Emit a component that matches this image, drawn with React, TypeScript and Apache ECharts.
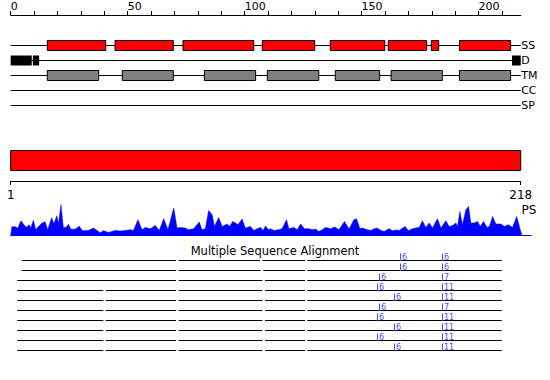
import React, { useEffect, useRef } from "react";
import * as echarts from "echarts";

// ---------- data ----------
const SEQ_LENGTH = 218;
const PROFILE_AXIS_END = 222.5;
const rulerTicks = [0, 10, 20, 30, 40, 50, 60, 70, 80, 90, 100, 110, 120, 130, 140, 150, 160, 170, 180, 190, 200, 210];
const rulerLabels = [0, 50, 100, 150, 200];
const positionLabels = [1, 218];
const trackNames = ["SS", "D", "TM", "CC", "SP"];

const ssSegments = [
  [15.65, 40.6], [44.6, 69.5], [73.65, 103.9], [107.55, 129.95],
  [136.6, 159.9], [161.4, 177.8], [179.8, 182.95], [191.8, 213.7],
];
const disorderSegments = [[0, 9], [9.45, 12.15], [214.3, 218]];
const tmSegments = [
  [15.65, 37.6], [47.7, 69.5], [82.8, 104.7], [109.7, 131.7],
  [138.75, 157.7], [162.6, 184.5], [191.8, 213.7],
];
const domainSegments = [[0, 218]];

const profile = [
  [0, 0], [0.5, 9], [2, 9], [3, 7.5], [4.4, 15], [5.8, 10.5], [6.8, 8.5], [7.8, 11], [8.6, 8], [9.7, 15.5],
  [10.7, 6], [11.8, 9], [13.3, 12.5], [14.7, 14], [15.8, 6], [17.5, 18], [18.5, 12], [19.7, 20], [20.4, 12],
  [21.5, 31], [22.5, 8], [23.7, 8.5], [24.7, 11.5], [25.7, 6.5], [27.5, 6.5], [29.3, 9.5], [30.7, 5], [33.2, 5.2],
  [35.4, 7.7], [37.5, 4.3], [38.2, 3], [39.7, 5], [41.8, 3.3], [44.7, 5.3], [46.8, 4.7], [48.9, 5.3], [51.1, 6],
  [52.5, 5.3], [54.4, 16], [56.1, 6], [57.5, 8.3], [59.7, 7], [61.8, 10.3], [63.5, 5.3], [65.4, 17], [67.2, 6],
  [69.7, 27.7], [71.1, 7.7], [72.5, 8.3], [74.6, 7.7], [76.1, 6], [78.2, 7], [80.6, 13.7], [81.8, 6], [83.2, 7],
  [84.6, 25.3], [86.1, 21], [87.1, 9.3], [88.9, 18.3], [90.4, 9.3], [92.5, 11.7], [93.6, 9.3], [94.9, 14.3],
  [96.1, 12.7], [97.1, 11], [98.9, 16.7], [100.3, 7.7], [102.5, 9.3], [103.9, 5.3], [105.3, 7], [106.8, 8.3],
  [107.9, 5.3], [108.9, 9.7], [110.3, 6], [111, 7], [112.5, 5.3], [114.6, 6], [116, 7], [117.9, 16], [118.9, 7],
  [121, 8.3], [122.5, 6], [123.9, 11.7], [125.6, 7], [127.5, 7], [128.9, 6], [130.3, 6.7], [131.7, 4.3],
  [133.2, 6], [134.6, 8.3], [136.7, 7], [138.5, 8.7], [140.3, 6], [142.7, 14.3], [144.6, 6.7], [146.7, 16],
  [147.8, 17], [149.3, 7], [150.3, 7.7], [152.4, 6], [153.9, 5.3], [155.3, 7], [156.7, 7.7], [158.2, 5.3],
  [159.6, 4.3], [161.7, 7], [163.2, 5], [164.6, 5.7], [166, 5.3], [168.6, 9.3], [170, 5], [171.7, 7],
  [173.1, 7.7], [174.6, 8.3], [176, 15], [177.4, 8.3], [178.9, 12.7], [180.3, 7.7], [182.4, 17], [183.9, 7.7],
  [186, 15], [187.4, 9.3], [188.9, 10.3], [190.3, 12.7], [191, 9.3], [192, 24.3], [193.1, 11], [194.6, 26],
  [195.7, 29.3], [196.7, 12.7], [198.1, 12.7], [199.6, 14.3], [200.7, 9.3], [202.1, 14.3], [203.6, 8.3],
  [204.6, 9.3], [206, 19.3], [207.4, 11.7], [209.6, 11.7], [211, 9.3], [212.8, 11], [214.5, 8.3], [216.3, 19.3],
  [217.7, 7], [218.6, 0],
];

const msaSegments = [
  [[4.7, 70.7], [71.8, 106.6], [107.6, 125.8], [126.8, 209.9]],
  [[4.7, 70.7], [71.8, 106.9], [108, 125.8], [126.8, 209.9]],
  [[2.8, 70.7], [71.8, 107.6], [108.7, 125.8], [126.8, 209.9]],
  [[2.8, 39.6], [40.6, 70.7], [71.8, 107.6], [108.7, 125.8], [126.8, 209.9]],
  [[2.8, 39.6], [40.6, 70.7], [71.8, 107.6], [108.7, 125.8], [126.8, 209.9]],
  [[2.8, 39.6], [40.6, 70.7], [71.8, 107.6], [108.7, 125.8], [126.8, 209.9]],
  [[2.8, 39.6], [40.6, 70.7], [71.8, 107.6], [108.7, 125.8], [126.8, 209.9]],
  [[2.8, 39.6], [40.6, 70.7], [71.8, 107.6], [108.7, 125.8], [126.8, 209.9]],
  [[2.8, 39.6], [40.6, 70.7], [71.8, 107.6], [108.7, 125.8], [126.8, 209.9]],
  [[2.8, 39.6], [40.6, 70.7], [71.8, 107.6], [108.7, 125.8], [126.8, 209.9]],
];
const msaInsertions = [
  [[166.4, 6], [184.2, 6]],
  [[166.4, 6], [184.2, 6]],
  [[157.6, 6], [184.2, 7]],
  [[156.7, 6], [184.2, 11]],
  [[163.9, 6], [184.2, 11]],
  [[157.6, 6], [184.2, 7]],
  [[156.7, 6], [184.2, 11]],
  [[163.9, 6], [184.2, 11]],
  [[156.7, 6], [184.2, 11]],
  [[163.9, 6], [184.2, 11]],
];

// ---------- layout ----------
const FONT = "DejaVu Sans";
const X_LEFT = 10.7;
const X_WIDTH = 510;
const TRACK_Y0 = 45.5;
const TRACK_GAP = 15;
const BOX_HALF = 5;
const DOMAIN_Y = 160.5;
const DOMAIN_HALF = 10;
const MSA_Y0 = 260.5;
const MSA_GAP = 10;

function boxSeries(segments: number[][], track: number, fill: string, stroke: string | null) {
  return {
    type: "custom",
    xAxisIndex: 0,
    yAxisIndex: 0,
    silent: true,
    data: segments.map((s) => [s[0], s[1], track]),
    renderItem: (_p: any, api: any) => {
      const y = TRACK_Y0 + api.value(2) * TRACK_GAP;
      const a = api.coord([api.value(0), y - BOX_HALF]);
      const b = api.coord([api.value(1), y + BOX_HALF]);
      return {
        type: "rect",
        shape: { x: a[0], y: a[1], width: b[0] - a[0], height: b[1] - a[1] },
        style: stroke ? { fill, stroke, lineWidth: 1 } : { fill },
      };
    },
  };
}

export default function App() {
  const ref = useRef<HTMLDivElement>(null);
  useEffect(() => {
    document.body.style.margin = "0";
    const chart = echarts.init(ref.current!, null, { renderer: "svg" });
    const msaSegData: number[][] = [];
    msaSegments.forEach((row, i) => row.forEach((s) => msaSegData.push([s[0], s[1], i])));
    const msaInsData: number[][] = [];
    msaInsertions.forEach((row, i) => row.forEach((s) => msaInsData.push([s[0], s[1], i])));

    const option: any = {
      animation: false,
      textStyle: { fontFamily: FONT },
      title: {
        text: "Multiple Sequence Alignment",
        left: "center",
        top: 245,
        padding: 0,
        textStyle: { fontSize: 11.5, fontWeight: "normal", fontFamily: FONT, color: "#000" },
      },
      grid: [
        { left: X_LEFT, top: 0, width: X_WIDTH, height: 380 },
        { left: X_LEFT, top: 15, width: X_WIDTH, height: 1 },
        { left: X_LEFT, top: 180, width: X_WIDTH, height: 1 },
        { left: X_LEFT, top: 195.7, width: (X_WIDTH * PROFILE_AXIS_END) / SEQ_LENGTH, height: 40 },
      ],
      xAxis: [
        { gridIndex: 0, type: "value", min: 0, max: SEQ_LENGTH, show: false },
        {
          gridIndex: 1, type: "value", position: "top", min: 0, max: SEQ_LENGTH,
          axisLine: { show: true, onZero: false, lineStyle: { color: "#000", width: 1 } },
          axisTick: { show: true, length: 4, customValues: rulerTicks, lineStyle: { color: "#000" } },
          axisLabel: { show: true, customValues: rulerLabels, align: "left", margin: 3, fontSize: 11, fontFamily: FONT, color: "#000" },
          splitLine: { show: false },
        },
        {
          gridIndex: 2, type: "value", position: "bottom", min: 1, max: SEQ_LENGTH,
          axisLine: { show: true, onZero: false, lineStyle: { color: "#000", width: 1 } },
          axisTick: { show: true, length: 4, customValues: positionLabels, lineStyle: { color: "#000" } },
          axisLabel: { show: true, customValues: positionLabels, margin: 8, fontSize: 12, fontFamily: FONT, color: "#000" },
          splitLine: { show: false },
        },
        {
          gridIndex: 3, type: "value", position: "bottom", min: 0, max: PROFILE_AXIS_END,
          axisLine: { show: true, onZero: false, lineStyle: { color: "#0000ff", width: 1 } },
          axisTick: { show: false }, axisLabel: { show: false }, splitLine: { show: false },
        },
      ],
      yAxis: [
        { gridIndex: 0, type: "value", min: 0, max: 380, inverse: true, show: false },
        { gridIndex: 1, type: "value", show: false },
        { gridIndex: 2, type: "value", show: false },
        { gridIndex: 3, type: "value", min: 0, max: 40, show: false },
      ],
      graphic: [
        {
          type: "text", left: 521.5, top: 204,
          style: { text: "PS", fontSize: 12, fontFamily: FONT, fill: "#000" },
        },
      ],
      series: [
        {
          type: "custom", xAxisIndex: 0, yAxisIndex: 0, silent: true,
          data: trackNames.map((_n, i) => [0, SEQ_LENGTH, i]),
          renderItem: (_p: any, api: any) => {
            const i = api.value(2);
            const y = TRACK_Y0 + i * TRACK_GAP;
            const a = api.coord([api.value(0), y]);
            const b = api.coord([api.value(1), y]);
            return {
              type: "group",
              children: [
                { type: "line", shape: { x1: a[0], y1: a[1], x2: b[0], y2: b[1] }, style: { stroke: "#000", lineWidth: 1 } },
                {
                  type: "text",
                  style: { text: trackNames[i], x: b[0] + 0.5, y: b[1], align: "left", verticalAlign: "middle", fontSize: 11, fontFamily: FONT, fill: "#000" },
                },
              ],
            };
          },
        },
        boxSeries(ssSegments, 0, "#ff0000", "#000"),
        boxSeries(disorderSegments, 1, "#000", null),
        boxSeries(tmSegments, 2, "#808080", "#000"),
        {
          type: "custom", xAxisIndex: 0, yAxisIndex: 0, silent: true,
          data: domainSegments,
          renderItem: (_p: any, api: any) => {
            const a = api.coord([api.value(0), DOMAIN_Y - DOMAIN_HALF]);
            const b = api.coord([api.value(1), DOMAIN_Y + DOMAIN_HALF]);
            return {
              type: "rect",
              shape: { x: a[0], y: a[1], width: b[0] - a[0], height: b[1] - a[1] },
              style: { fill: "#ff0000", stroke: "#000", lineWidth: 1 },
            };
          },
        },
        {
          type: "line", xAxisIndex: 3, yAxisIndex: 3, data: profile, showSymbol: false, symbol: "none", silent: true,
          lineStyle: { width: 0.5, color: "#0000ff" },
          areaStyle: { color: "#0000ff", opacity: 1 },
        },
        {
          type: "custom", xAxisIndex: 0, yAxisIndex: 0, silent: true,
          data: msaSegData,
          renderItem: (_p: any, api: any) => {
            const y = MSA_Y0 + api.value(2) * MSA_GAP;
            const a = api.coord([api.value(0), y]);
            const b = api.coord([api.value(1), y]);
            return { type: "line", shape: { x1: a[0], y1: a[1], x2: b[0], y2: b[1] }, style: { stroke: "#000", lineWidth: 1 } };
          },
        },
        {
          type: "custom", xAxisIndex: 0, yAxisIndex: 0, silent: true,
          data: msaInsData,
          renderItem: (_p: any, api: any) => {
            const y = MSA_Y0 + api.value(2) * MSA_GAP;
            const a = api.coord([api.value(0), y]);
            const x = Math.round(a[0]) + 0.5;
            return {
              type: "group",
              children: [
                { type: "line", shape: { x1: x, y1: a[1] - 7, x2: x, y2: a[1] + 0.5 }, style: { stroke: "#4a4aff", lineWidth: 1 } },
                {
                  type: "text",
                  style: { text: String(api.value(1)), x: x + 1.5, y: a[1] + 0.5, align: "left", verticalAlign: "bottom", fontSize: 8, fontFamily: FONT, fill: "#4a4aff" },
                },
              ],
            };
          },
        },
      ],
    };
    chart.setOption(option);
    return () => chart.dispose();
  }, []);
  return <div ref={ref} style={{ width: 550, height: 380 }} />;
}
